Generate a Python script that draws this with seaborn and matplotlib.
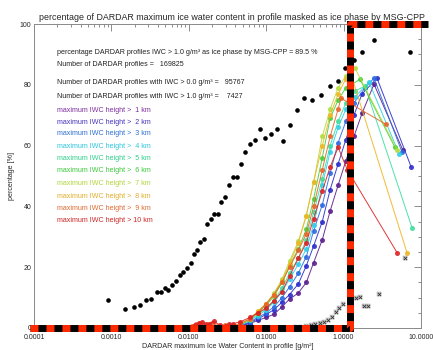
import numpy as np
import pandas as pd
import seaborn as sns
import matplotlib
matplotlib.use("Agg")
import matplotlib.pyplot as plt
from matplotlib.ticker import FixedLocator, FormatStrFormatter, MultipleLocator, LogLocator, NullFormatter

# all DARDAR profiles (black dots)
iwc_all = [0.00090, 0.00150, 0.00196, 0.00234, 0.00280, 0.00325, 0.00388, 0.00438,
           0.00493, 0.00538, 0.00607, 0.00684, 0.00769, 0.00841, 0.00948, 0.0107,
           0.0117, 0.0128, 0.0140, 0.0157, 0.0172, 0.0194, 0.0212, 0.0238, 0.0261,
           0.0294, 0.0330, 0.0372, 0.0420, 0.0472, 0.0532, 0.0618, 0.0716, 0.0832,
           0.0964, 0.115, 0.138, 0.165, 0.203, 0.250, 0.308, 0.391, 0.511, 0.667,
           0.848, 1.04, 1.36, 1.73, 2.47, 7.21]
pct_all = [9.2, 6.3, 6.9, 7.6, 9.2, 9.6, 11.9, 11.9, 13.2, 12.5, 14.2, 15.5, 17.5,
           18.5, 19.8, 21.5, 24.4, 25.7, 28.4, 29.4, 34.3, 36.0, 37.6, 37.6, 41.3,
           43.2, 46.9, 49.8, 49.8, 54.1, 57.8, 60.4, 61.7, 65.3, 62.4, 63.7, 65.3,
           61.4, 66.7, 71.6, 75.6, 74.9, 76.6, 79.5, 81.2, 85.5, 88.1, 90.8, 94.7, 90.8]

# grey crosses
iwc_cross = [0.235, 0.273, 0.327, 0.379, 0.426, 0.495, 0.558, 0.628, 0.708, 0.798,
             0.873, 0.982, 1.45, 1.63, 1.84, 2.07, 2.87, 6.21]
pct_cross = [0.2, 0.3, 0.7, 1.0, 1.3, 1.7, 2.0, 2.6, 3.6, 5.3, 6.6, 7.9, 9.9, 10.2,
             7.3, 7.3, 11.2, 23.1]

# curves per maximum IWC height
iwc_rise = [0.046, 0.062, 0.078, 0.10, 0.126, 0.16, 0.20, 0.26, 0.33, 0.41, 0.53,
            0.67, 0.85, 1.07]
iwc_low_9 = [0.011, 0.0125, 0.014, 0.0155, 0.017, 0.02, 0.024, 0.029, 0.035, 0.040]
pct_low_9 = [0.5, 1.2, 1.5, 0.6, 0.8, 1.6, 0.7, 1.0, 0.5, 0.8]
iwc_low_10 = [0.012, 0.0135, 0.015, 0.0165, 0.018, 0.021, 0.025, 0.030, 0.033, 0.037]
pct_low_10 = [1.0, 1.6, 2.0, 1.4, 1.2, 2.2, 1.0, 0.6, 1.2, 1.4]

iwc_1km = iwc_rise + [1.36, 1.73, 2.47, 5.85]
pct_1km = [0.5, 1.5, 2.5, 3.5, 4.5, 7, 9.5, 11.5, 15, 21.5, 29, 38.5, 47, 55, 63, 70.6, 80.2, 58.4]
iwc_2km = iwc_rise + [1.36, 1.73, 2.70, 7.43]
pct_2km = [0.6, 1.8, 3, 4.5, 6, 8.5, 11, 14.5, 20.5, 27, 35, 45.5, 54, 62, 70, 77, 82.2, 53.1]
iwc_3km = iwc_rise + [1.36, 1.89, 2.47, 5.69]
pct_3km = [0.8, 2, 3.5, 5, 7, 10, 13.5, 18, 23.5, 32, 40.5, 51, 61, 68, 74, 79, 82.2, 57.8]
iwc_4km = iwc_rise + [1.40, 2.13, 5.20]
pct_4km = [1, 2.5, 4, 6, 8.5, 12, 16, 21, 26, 34, 47, 58, 66, 72, 76, 80.9, 57.4]
iwc_5km = iwc_rise + [1.40, 1.89, 7.65]
pct_5km = [1, 2.5, 4.5, 6.5, 9, 13, 18, 23, 29, 38, 49, 60, 68, 74, 78, 79.5, 33]
iwc_6km = iwc_rise + [1.63, 4.61]
pct_6km = [1, 3, 5, 7.5, 10.5, 15, 20.5, 26, 32.5, 42.5, 56, 69, 75, 79, 81.8, 59.4]
iwc_7km = iwc_rise + [1.40, 4.90]
pct_7km = [1.2, 3, 5.5, 8, 11.5, 16, 22, 28.5, 37, 48, 63, 72, 79, 83, 85.5, 58.7]
iwc_8km = iwc_rise + [1.21, 6.59]
pct_8km = [1.2, 3, 5.5, 8, 11, 15.5, 21, 28, 37, 48, 60, 70, 77, 82, 84.5, 24.8]
iwc_9km = iwc_low_9 + iwc_rise[:13] + [0.925, 3.53]
pct_9km = pct_low_9 + [1.5, 3, 5, 8, 11, 15, 20, 25.5, 31, 40, 52, 63, 72, 75.6, 67]
iwc_10km = iwc_low_10 + iwc_rise[:13] + [1.12, 4.90]
pct_10km = pct_low_10 + [2, 3.5, 5, 6.5, 9, 12, 17, 23, 28, 36, 45, 53, 59.4, 52, 24.8]

heights = ["1 km", "2 km", "3 km", "4 km", "5 km", "6 km", "7 km", "8 km", "9 km", "10 km"]
line_colors = ["#5a1f8c", "#2b2bcc", "#2a6ae0", "#2fcdeb", "#3ddd9e", "#45cf3c",
               "#b4dd3c", "#efb522", "#e8642a", "#dd2222"]
text_colors = ["#7f2f9f", "#4433bb", "#2f6fd0", "#2cc6de", "#2fcf8c", "#3cc83c",
               "#b0d63a", "#e0ad2a", "#dc6a32", "#cc2626"]

# thick dashed highlight frame
box_iwc = [8.9e-5, 1.21, 1.21, 12.3]
box_pct = [0, 0, 100, 100]

info_lines = [
    "percentage DARDAR profiles IWC > 1.0 g/m³ as ice phase by MSG-CPP = 89.5 %",
    "Number of DARDAR profiles =   169825",
    "Number of DARDAR profiles with IWC > 0.0 g/m³ =   95767",
    "Number of DARDAR profiles with IWC > 1.0 g/m³ =    7427",
]

curves = pd.concat([
    pd.DataFrame({"iwc": x, "pct": y, "height": h})
    for x, y, h in zip(
        [iwc_1km, iwc_2km, iwc_3km, iwc_4km, iwc_5km, iwc_6km, iwc_7km, iwc_8km, iwc_9km, iwc_10km],
        [pct_1km, pct_2km, pct_3km, pct_4km, pct_5km, pct_6km, pct_7km, pct_8km, pct_9km, pct_10km],
        heights)
], ignore_index=True)

sns.set_style("white")
plt.rcParams["font.family"] = ["Liberation Sans", "DejaVu Sans"]

fig = plt.figure(figsize=(4.33, 3.5), dpi=100)
ax = fig.add_axes([0.0785, 0.0629, 0.8938, 0.8685])

sns.lineplot(data=curves, x="iwc", y="pct", hue="height", hue_order=heights,
             palette=line_colors, estimator=None, sort=False, marker="o",
             markersize=3.6, markeredgewidth=0, linewidth=0.7, alpha=0.9,
             legend=False, ax=ax)
sns.scatterplot(x=iwc_all, y=pct_all, color="black", s=11, linewidth=0, ax=ax, zorder=5)
sns.scatterplot(x=iwc_cross, y=pct_cross, marker="s", color="#cfcfcf", s=9,
                edgecolor="#9a9a9a", linewidth=0.3, ax=ax, zorder=4)
sns.scatterplot(x=iwc_cross, y=pct_cross, marker="x", color="#333333", s=6,
                linewidth=0.6, ax=ax, zorder=4)

# highlight frame: black base with red dashes on top
ax.plot(box_iwc, box_pct, color="black", lw=5.0, solid_capstyle="butt",
        solid_joinstyle="miter", clip_on=False, zorder=10)
ax.plot(box_iwc, box_pct, color="#ff2a00", lw=5.0, linestyle=(0, (1.15, 1.15)),
        dash_capstyle="butt", clip_on=False, zorder=11)

ax.set_xscale("log")
ax.set_xlim(1e-4, 10)
ax.set_ylim(0, 100)
ax.xaxis.set_major_locator(FixedLocator([1e-4, 1e-3, 1e-2, 1e-1, 1, 10]))
ax.xaxis.set_major_formatter(FormatStrFormatter("%.4f"))
ax.xaxis.set_minor_locator(LogLocator(base=10, subs=np.arange(2, 10), numticks=20))
ax.xaxis.set_minor_formatter(NullFormatter())
ax.yaxis.set_major_locator(MultipleLocator(20))
ax.yaxis.set_major_formatter(FormatStrFormatter("%d"))
ax.yaxis.set_minor_locator(MultipleLocator(5))
ax.tick_params(which="both", direction="in", top=True, right=True,
               color="#7a7a7a", width=0.6, labelsize=5, pad=2)
ax.tick_params(axis="x", which="major", pad=4)
ax.tick_params(which="major", length=5)
ax.tick_params(which="minor", length=2.5)
for s in ax.spines.values():
    s.set_color("#8a8a8a")
    s.set_linewidth(0.7)

ax.set_xlabel("DARDAR maximum Ice Water Content in profile [g/m²]", fontsize=5.1, labelpad=2)
ax.set_ylabel("percentage [%]", fontsize=5.1, labelpad=3.5)
fig.text(0.536, 0.951, "percentage of DARDAR maximum ice water content in profile masked as ice phase by MSG-CPP",
         ha="center", va="center", fontsize=6.4)

info_y = [52, 64.5, 82.5, 96.5]
for txt, yp in zip(info_lines, info_y):
    fig.text(57 / 433, 1 - yp / 350, txt, ha="left", va="center", fontsize=5.1, color="#222222")
leg_y = [110, 122, 134, 147, 158, 171, 183, 196, 208, 220]
for h, c, yp in zip(heights, text_colors, leg_y):
    lab = "maximum IWC height > " + ("" if h == "10 km" else " ") + h
    fig.text(57 / 433, 1 - yp / 350, lab, ha="left", va="center", fontsize=5.1, color=c)

fig.savefig("out.png", dpi=100)
